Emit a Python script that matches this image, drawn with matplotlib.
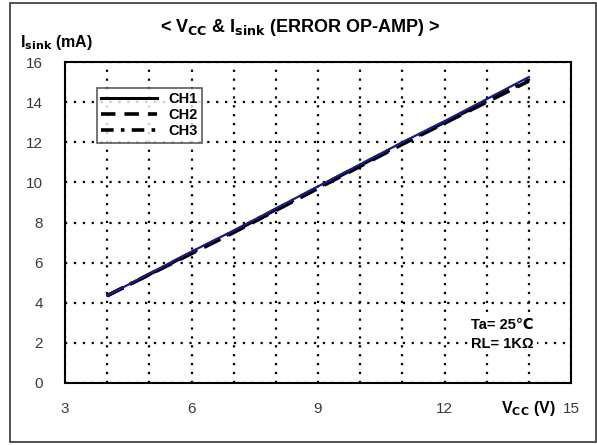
import numpy as np
import matplotlib
matplotlib.use("Agg")
from matplotlib import pyplot as plt
from matplotlib.patches import Rectangle
from matplotlib.lines import Line2D

plt.rcParams['font.family'] = ['Liberation Sans', 'DejaVu Sans']
plt.rcParams['mathtext.default'] = 'bf'

# supply voltage (V)
vcc = [4, 5, 6, 7, 8, 9, 10, 11, 12, 13, 14]
# sink current per channel (mA)
ch1 = [4.35, 5.45, 6.55, 7.6, 8.7, 9.8, 10.9, 12.0, 13.05, 14.15, 15.25]
ch2 = [4.35, 5.4, 6.45, 7.5, 8.6, 9.7, 10.8, 11.9, 12.95, 14.0, 15.05]
ch3 = [4.35, 5.42, 6.5, 7.55, 8.65, 9.75, 10.85, 11.95, 13.0, 14.05, 15.1]

xticks = [3, 6, 9, 12, 15]
yticks = [0, 2, 4, 6, 8, 10, 12, 14, 16]

fig = plt.figure(figsize=(5.97, 4.45), dpi=100)
fig.patches.append(Rectangle((10 / 597, 3 / 445), 586 / 597, 439 / 445,
                             transform=fig.transFigure, fill=False,
                             edgecolor='#333333', linewidth=1.2))

ax = fig.add_axes([65 / 597, 62 / 445, 506 / 597, 321 / 445])

dash2 = (0, (5, 2.5))
dash3 = (0, (5, 2, 1, 2))
ax.plot(vcc, ch2, color='black', lw=2.6, linestyle=dash2)
ax.plot(vcc, ch3, color='black', lw=2.6, linestyle=dash3)
ax.plot(vcc, ch1, color='#1a1a8c', lw=1.6)

ax.set_xlim(3, 15)
ax.set_ylim(0, 16)
ax.set_xticks(xticks)
ax.set_yticks(yticks)
ax.set_xticks(np.arange(4, 15, 1), minor=True)
ax.tick_params(which='both', length=0, labelsize=11, colors='#3a3a3a')
ax.tick_params(axis='x', pad=14)
ax.tick_params(axis='y', pad=16)
ax.grid(True, which='both', axis='x', color='black', linestyle=(0, (1, 3)), lw=1.6)
ax.grid(True, which='major', axis='y', color='black', linestyle=(0, (1, 3)), lw=1.6)
for s in ax.spines.values():
    s.set_linewidth(1.5)

handles = [Line2D([], [], color='black', lw=2.2),
           Line2D([], [], color='black', lw=2.6, linestyle=(0, (4, 2.5))),
           Line2D([], [], color='black', lw=2.6, linestyle=(0, (3.5, 2, 1, 2)))]
leg = ax.legend(handles, ['CH1', 'CH2', 'CH3'],
                loc='upper left', bbox_to_anchor=(0.063, 0.92),
                frameon=True, fancybox=False, edgecolor='#333333',
                prop={'weight': 'bold', 'size': 10.5}, handlelength=3.8,
                borderpad=0.3, labelspacing=0.15, handletextpad=0.8,
                borderaxespad=0)
leg.get_frame().set_linewidth(1.2)

ax.text(0.865, 0.15, 'Ta= 25\u2103\nRL= 1K\u03a9', transform=ax.transAxes,
        ha='center', va='center', fontsize=10.5, fontweight='bold',
        linespacing=1.45,
        bbox=dict(facecolor='white', edgecolor='none', pad=2))

fig.text(300 / 597, 1 - 27 / 445,
         r'< V$_{CC}$ & I$_{sink}$ (ERROR OP-AMP) >',
         ha='center', va='center', fontsize=13, fontweight='bold')
fig.text(20 / 597, 1 - 43 / 445, r'I$_{sink}$ (mA)',
         ha='left', va='center', fontsize=11.5, fontweight='bold')
fig.text(528 / 597, 1 - 409 / 445, r'V$_{CC}$ (V)',
         ha='center', va='center', fontsize=11.5, fontweight='bold')

fig.savefig('out.png', dpi=100)
